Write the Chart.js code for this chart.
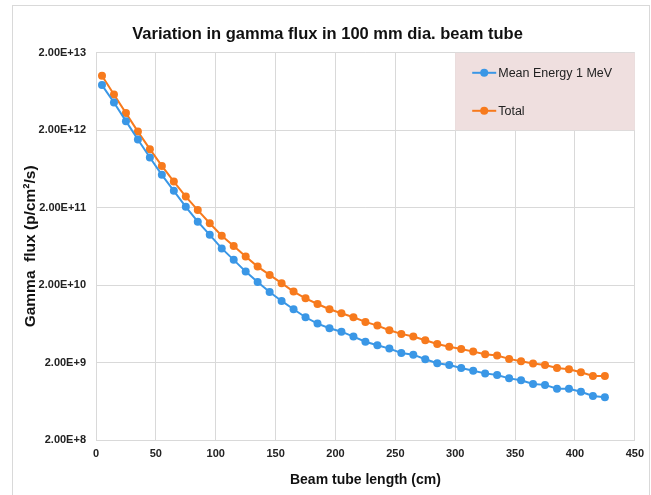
<!DOCTYPE html>
<html lang="en">
<head>
<meta charset="utf-8">
<title>Variation in gamma flux in 100 mm dia. beam tube</title>
<script src="https://cdn.jsdelivr.net/npm/chart.js@4.4.1/dist/chart.umd.min.js"></script>
<style>
    html, body { margin: 0; padding: 0; background: #ffffff; }
    #wrap { position: relative; width: 651px; height: 495px; }
</style>
</head>
<body>
<div id="wrap"><canvas id="fluxChart"></canvas></div>
<script>
// === DADOS ===
const lengths = [5, 15, 25, 35, 45, 55, 65, 75, 85, 95, 105, 115, 125, 135, 145, 155, 165, 175, 185, 195,
    205, 215, 225, 235, 245, 255, 265, 275, 285, 295, 305, 315, 325, 335, 345, 355, 365, 375, 385, 395,
    405, 415, 425];

const meanEnergy1MeV = [7.65e12, 4.56e12, 2.62e12, 1.52e12, 8.88e11, 5.31e11, 3.30e11, 2.05e11, 1.32e11, 8.91e10,
    5.96e10, 4.24e10, 2.99e10, 2.20e10, 1.63e10, 1.25e10, 9.77e9, 7.69e9, 6.37e9, 5.55e9,
    5.01e9, 4.33e9, 3.72e9, 3.35e9, 3.03e9, 2.66e9, 2.53e9, 2.21e9, 1.96e9, 1.86e9,
    1.70e9, 1.57e9, 1.45e9, 1.38e9, 1.25e9, 1.18e9, 1.06e9, 1.03e9, 9.2e8, 9.2e8,
    8.41e8, 7.4e8, 7.13e8];

const total = [1.01e13, 5.78e12, 3.33e12, 1.92e12, 1.14e12, 6.93e11, 4.35e11, 2.78e11, 1.86e11, 1.26e11,
    8.7e10, 6.42e10, 4.67e10, 3.47e10, 2.71e10, 2.12e10, 1.65e10, 1.35e10, 1.14e10, 9.77e9,
    8.67e9, 7.69e9, 6.70e9, 6.0e9, 5.23e9, 4.69e9, 4.33e9, 3.88e9, 3.48e9, 3.21e9,
    3.0e9, 2.77e9, 2.56e9, 2.46e9, 2.23e9, 2.08e9, 1.94e9, 1.86e9, 1.70e9, 1.64e9,
    1.50e9, 1.34e9, 1.34e9];

const seriesNames = ['Mean Energy 1 MeV', 'Total'];
const yTickValues = [2e8, 2e9, 2e10, 2e11, 2e12, 2e13];

document.addEventListener('DOMContentLoaded', () => {
    const blue = '#3a97e6';
    const orange = '#f77a1d';
    const gridGrey = '#d9d9d9';
    const fontFamily = '"Liberation Sans", Arial, sans-serif';

    // moldura externa do gráfico
    const framePlugin = {
        id: 'frame',
        beforeDraw(chart) {
            const ctx = chart.ctx;
            ctx.save();
            ctx.strokeStyle = gridGrey;
            ctx.lineWidth = 1;
            ctx.strokeRect(12.5, 5.5, 637, 600);
            ctx.restore();
        }
    };

    // legenda com fundo rosa dentro da área do gráfico
    const boxLegend = {
        id: 'boxLegend',
        beforeDatasetsDraw(chart) {
            const ctx = chart.ctx;
            const area = chart.chartArea;
            const left = chart.scales.x.getPixelForValue(300);
            const bottom = chart.scales.y.getPixelForValue(2e12);
            ctx.save();
            ctx.fillStyle = '#efdfdf';
            ctx.fillRect(left, area.top, area.right - left, bottom - area.top);

            chart.data.datasets.forEach((ds, i) => {
                const y = area.top + 20 + i * 38;
                ctx.strokeStyle = ds.borderColor;
                ctx.lineWidth = 2;
                ctx.beginPath();
                ctx.moveTo(left + 17, y);
                ctx.lineTo(left + 41, y);
                ctx.stroke();
                ctx.fillStyle = ds.borderColor;
                ctx.beginPath();
                ctx.arc(left + 29, y, 4, 0, Math.PI * 2);
                ctx.fill();
                ctx.fillStyle = '#222222';
                ctx.font = '12.5px ' + fontFamily;
                ctx.textBaseline = 'middle';
                ctx.textAlign = 'left';
                ctx.fillText(ds.label, left + 43, y + 1);
            });
            ctx.restore();
        }
    };

    const makeSeries = (label, values, color) => ({
        label: label,
        data: lengths.map((x, i) => ({ x: x, y: values[i] })),
        borderColor: color,
        backgroundColor: color,
        pointBackgroundColor: color,
        pointBorderColor: color,
        pointRadius: 4,
        pointBorderWidth: 0,
        borderWidth: 2,
        tension: 0
    });

    new Chart(document.getElementById('fluxChart'), {
        type: 'line',
        data: {
            datasets: [
                makeSeries(seriesNames[0], meanEnergy1MeV, blue),
                makeSeries(seriesNames[1], total, orange)
            ]
        },
        options: {
            responsive: true,
            maintainAspectRatio: false,
            animation: false,
            layout: { padding: { left: 13, right: 9, top: 15, bottom: 0 } },
            plugins: {
                legend: { display: false },
                tooltip: { enabled: false },
                title: {
                    display: true,
                    text: 'Variation in gamma flux in 100 mm dia. beam tube',
                    color: '#111111',
                    font: { family: fontFamily, size: 16.5, weight: 'bold' },
                    padding: { top: 10, bottom: 8 }
                }
            },
            scales: {
                x: {
                    type: 'linear',
                    min: 0,
                    max: 450,
                    ticks: {
                        stepSize: 50,
                        color: '#222222',
                        padding: 7,
                        maxRotation: 0,
                        font: { family: fontFamily, size: 11, weight: 'bold' }
                    },
                    grid: { color: gridGrey, drawTicks: false },
                    border: { color: gridGrey },
                    title: {
                        display: true,
                        text: 'Beam tube length (cm)',
                        color: '#111111',
                        font: { family: fontFamily, size: 14, weight: 'bold' },
                        padding: { top: 4, bottom: 6 }
                    },
                    afterFit: (scale) => { scale.height = 55; }
                },
                y: {
                    type: 'logarithmic',
                    min: 2e8,
                    max: 2e13,
                    afterBuildTicks: (scale) => {
                        scale.ticks = yTickValues.map(v => ({ value: v }));
                    },
                    ticks: {
                        color: '#222222',
                        padding: 10,
                        font: { family: fontFamily, size: 11, weight: 'bold' },
                        callback: (value) => Number(value).toExponential(2).toUpperCase()
                    },
                    grid: { color: gridGrey, drawTicks: false },
                    border: { color: gridGrey },
                    title: {
                        display: true,
                        text: 'Gamma  flux (p/cm²/s)',
                        color: '#111111',
                        font: { family: fontFamily, size: 15.5, weight: 'bold' },
                        padding: 8
                    },
                    afterFit: (scale) => { scale.width = 83; }
                }
            }
        },
        plugins: [framePlugin, boxLegend]
    });
});
</script>
</body>
</html>
